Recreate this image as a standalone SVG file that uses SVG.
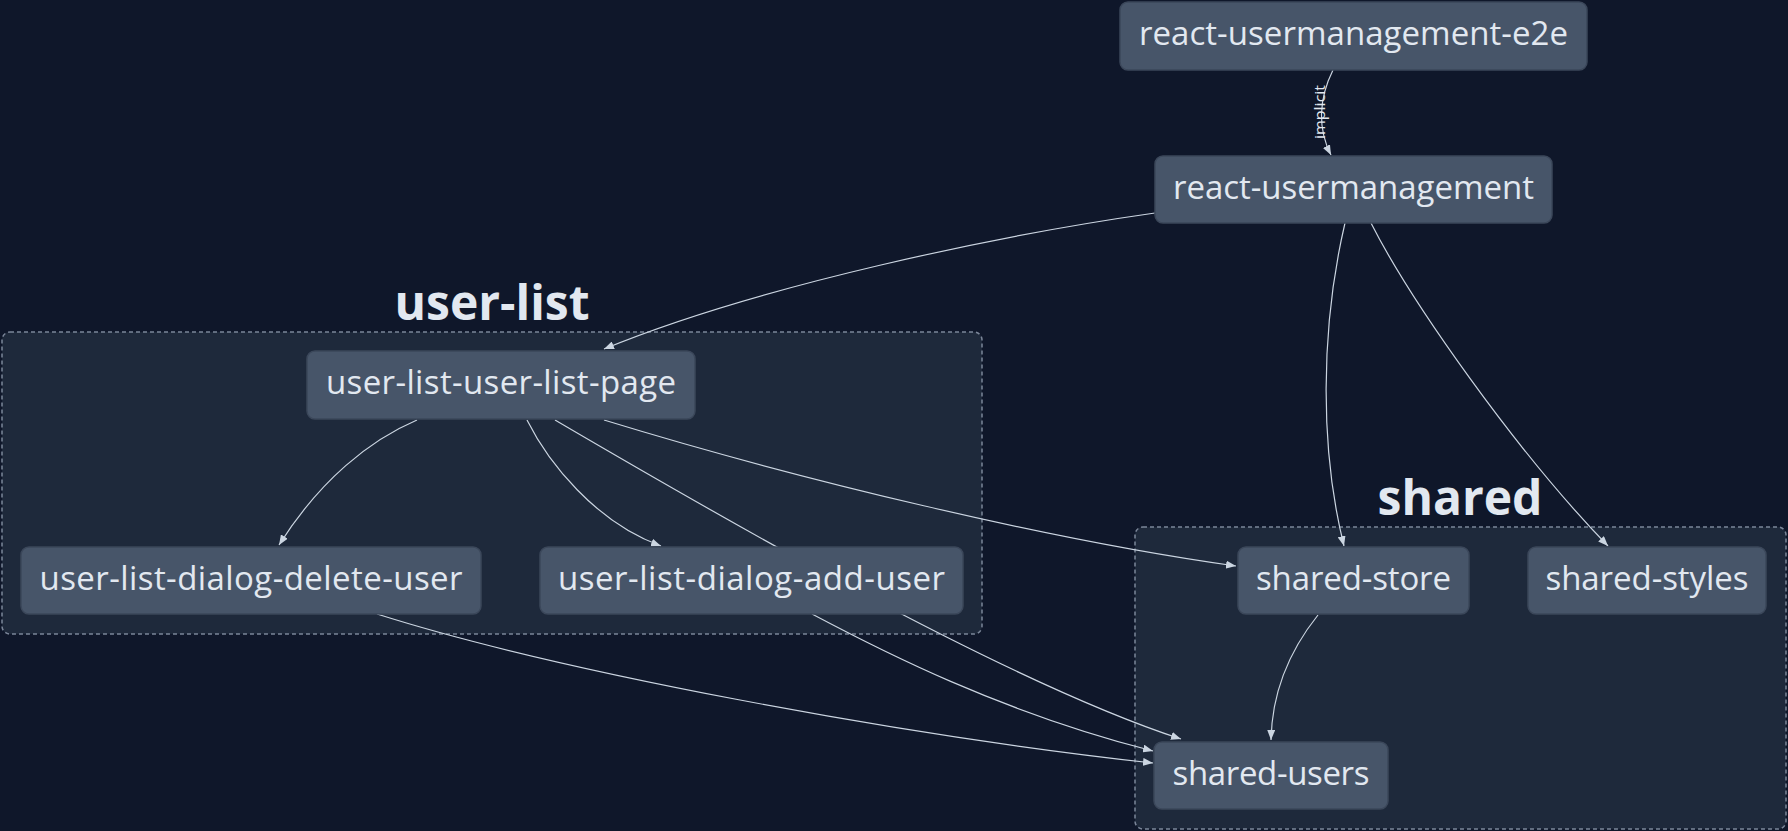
<svg xmlns="http://www.w3.org/2000/svg" width="1788" height="831" viewBox="0 0 1788 831">
<defs>
<style>
.cluster{fill:#1e293b;stroke:#7b8699;stroke-width:1.5;stroke-dasharray:4 3}
.clabel{font-family:"Open Sans","Noto Sans",sans-serif;font-weight:700;font-size:48px;fill:#e2e8f0;text-anchor:middle}
.node rect{fill:#475569;stroke:#3b475a;stroke-width:1.5}
.node text{font-family:"Open Sans","Noto Sans",sans-serif;font-size:33px;fill:#e2e8f0;text-anchor:middle}
.edge{fill:none;stroke:#cbd5e1;stroke-width:1.2;marker-end:url(#arrow)}
.elabel{font-family:"Open Sans","Noto Sans",sans-serif;font-size:14px;fill:#e2e8f0;text-anchor:middle}
</style>
<marker id="arrow" viewBox="0 0 10 8" refX="10" refY="4" markerWidth="10" markerHeight="8" markerUnits="userSpaceOnUse" orient="auto">
<path d="M0,0 L10,4 L0,8 z" fill="#cbd5e1"/>
</marker>
</defs>
<rect x="0" y="0" width="1788" height="831" fill="#0f172a"/>

<g id="cluster-user-list">
<rect class="cluster" x="2" y="332" width="980" height="302" rx="8"/>
<text class="clabel" x="492" y="320">user-list</text>
</g>
<g id="cluster-shared">
<rect class="cluster" x="1135" y="527" width="651" height="302" rx="8"/>
<text class="clabel" x="1460" y="515">shared</text>
</g>

<g id="edges">
<path class="edge" d="M1333,70 C1318,100 1318,130 1331,155"/>
<text class="elabel" transform="translate(1320,112) rotate(-90)" dy="0.35em" textLength="54" lengthAdjust="spacingAndGlyphs">implicit</text>
<path class="edge" d="M1155,213 C1000,235 760,285 604,349"/>
<path class="edge" d="M1345,223 C1320,330 1320,450 1344,546"/>
<path class="edge" d="M1371,223 C1410,300 1515,450 1608,546"/>
<path class="edge" d="M417,420 C370,440 320,480 279,545"/>
<path class="edge" d="M527,420 C548,462 595,522 661,546"/>
<path class="edge" d="M555,420 C700,505 1000,680 1181,739"/>
<path class="edge" d="M604,420 C800,480 1050,540 1236,566"/>
<path class="edge" d="M812,614 C880,650 1000,712 1153,751"/>
<path class="edge" d="M377,614 C560,672 900,735 1153,763"/>
<path class="edge" d="M1318,615 C1290,650 1272,690 1271,740"/>
</g>

<g id="node-react-usermanagement-e2e" class="node">
<rect x="1120" y="2" width="467" height="68" rx="8"/>
<text x="1353.5" y="45" textLength="429" lengthAdjust="spacing">react-usermanagement-e2e</text>
</g>
<g id="node-react-usermanagement" class="node">
<rect x="1155" y="156" width="397" height="67" rx="8"/>
<text x="1353.5" y="199" textLength="361" lengthAdjust="spacing">react-usermanagement</text>
</g>
<g id="node-user-list-user-list-page" class="node">
<rect x="307" y="351" width="388" height="68" rx="8"/>
<text x="501" y="394" textLength="350" lengthAdjust="spacing">user-list-user-list-page</text>
</g>
<g id="node-user-list-dialog-delete-user" class="node">
<rect x="21" y="547" width="460" height="67" rx="8"/>
<text x="251" y="590" textLength="423" lengthAdjust="spacing">user-list-dialog-delete-user</text>
</g>
<g id="node-user-list-dialog-add-user" class="node">
<rect x="540" y="547" width="423" height="67" rx="8"/>
<text x="751.5" y="590" textLength="387" lengthAdjust="spacing">user-list-dialog-add-user</text>
</g>
<g id="node-shared-store" class="node">
<rect x="1238" y="547" width="231" height="67" rx="8"/>
<text x="1353.5" y="590" textLength="195" lengthAdjust="spacing">shared-store</text>
</g>
<g id="node-shared-styles" class="node">
<rect x="1528" y="547" width="238" height="67" rx="8"/>
<text x="1647" y="590" textLength="203" lengthAdjust="spacing">shared-styles</text>
</g>
<g id="node-shared-users" class="node">
<rect x="1154" y="742" width="234" height="67" rx="8"/>
<text x="1271" y="785" textLength="197" lengthAdjust="spacing">shared-users</text>
</g>
</svg>
